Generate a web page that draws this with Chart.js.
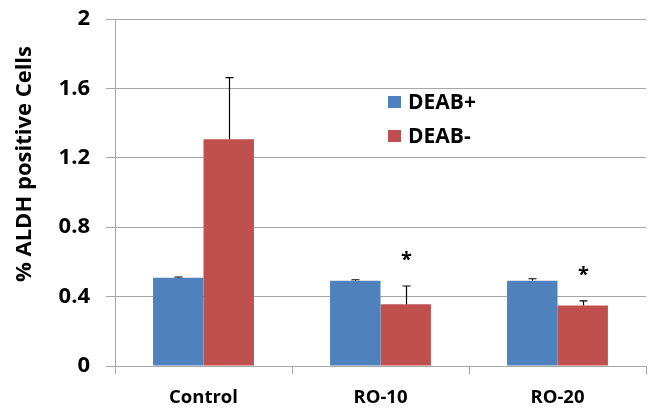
<!DOCTYPE html>
<html>
<head>
<meta charset="utf-8">
<script src="https://cdn.jsdelivr.net/npm/chart.js@4/dist/chart.umd.min.js"></script>
<style>
  html, body { margin: 0; padding: 0; background: #fff; }
  #wrap { width: 649px; height: 409px; }
</style>
</head>
<body>
<div id="wrap"><canvas id="chart" width="649" height="409"></canvas></div>
<script>
// data
const categories = ["Control", "RO-10", "RO-20"];
const deabPlus   = [0.509, 0.492, 0.492];
const deabMinus  = [1.307, 0.356, 0.348];
const errPlus    = [0.004, 0.005, 0.011];
const errMinus   = [0.355, 0.105, 0.027];
const sigMarks   = ["", "*", "*"];   // marks over DEAB- bars
const yTicks     = [0, 0.4, 0.8, 1.2, 1.6, 2];
const yTitle     = "% ALDH positive Cells";

const BLUE = "#4f81bd";
const RED  = "#c0504d";
const GRID = "#a6a6a6";
const FONT = "'Open Sans', sans-serif";

/* upward error bars + significance stars */
const errorBars = {
  id: "errorBars",
  afterDatasetsDraw(chart) {
    const { ctx, scales: { y } } = chart;
    ctx.save();
    ctx.strokeStyle = "#000";
    ctx.lineWidth = 1.2;
    chart.data.datasets.forEach((ds, di) => {
      const meta = chart.getDatasetMeta(di);
      meta.data.forEach((bar, i) => {
        const top = y.getPixelForValue(ds.data[i] + ds.err[i]);
        const x = Math.round(bar.x) + 0.5;
        ctx.beginPath();
        ctx.moveTo(x, bar.y);
        ctx.lineTo(x, top);
        ctx.moveTo(x - 4, top);
        ctx.lineTo(x + 4, top);
        ctx.stroke();
        if (ds.marks && ds.marks[i]) {
          ctx.fillStyle = "#000";
          ctx.font = "bold 20px " + FONT;
          ctx.textAlign = "center";
          ctx.textBaseline = "middle";
          ctx.fillText(ds.marks[i], x, top - 26);
        }
      });
    });
    ctx.restore();
  }
};

/* legend inside the plot + y title sitting above centre, like the original */
const extras = {
  id: "extras",
  afterDraw(chart) {
    const { ctx } = chart;
    ctx.save();
    ctx.font = "bold 21px " + FONT;
    ctx.textBaseline = "middle";
    ctx.textAlign = "left";
    chart.data.datasets.forEach((ds, i) => {
      const cy = 102 + i * 34;
      ctx.fillStyle = ds.backgroundColor;
      ctx.fillRect(388, cy - 6, 13, 12);
      ctx.fillStyle = "#000";
      ctx.fillText(ds.label, 408, cy + 1);
    });

    ctx.translate(25, 164);
    ctx.rotate(-Math.PI / 2);
    ctx.textAlign = "center";
    ctx.font = "bold 22px " + FONT;
    ctx.fillText(yTitle, 0, 0);
    ctx.restore();
  }
};

new Chart(document.getElementById("chart"), {
  type: "bar",
  data: {
    labels: categories,
    datasets: [
      { label: "DEAB+", data: deabPlus, err: errPlus, backgroundColor: BLUE },
      { label: "DEAB-", data: deabMinus, err: errMinus, marks: sigMarks, backgroundColor: RED },
    ],
  },
  options: {
    responsive: false,
    animation: false,
    layout: { padding: { top: 19, right: 3, left: 0, bottom: 0 } },
    datasets: { bar: { categoryPercentage: 0.57, barPercentage: 1 } },
    plugins: { legend: { display: false }, tooltip: { enabled: false } },
    scales: {
      x: {
        grid: { offset: true, drawOnChartArea: false, color: GRID, tickLength: 8 },
        border: { color: GRID },
        ticks: { color: "#000", font: { family: FONT, weight: "bold", size: 18.5 }, padding: 13 },
        afterFit(scale) { scale.height = 43; scale.paddingLeft = 0; scale.paddingRight = 0; },
      },
      y: {
        min: 0,
        max: 2,
        afterBuildTicks(scale) { scale.ticks = yTicks.map(v => ({ value: v })); },
        grid: { color: GRID, tickLength: 9 },
        border: { color: GRID },
        ticks: {
          color: "#000",
          font: { family: FONT, weight: "bold", size: 22 },
          padding: 16,
          callback: v => String(v),
        },
        afterFit(scale) { scale.width = 115; scale.paddingTop = 0; scale.paddingBottom = 0; },
      },
    },
  },
  plugins: [errorBars, extras],
});
</script>
</body>
</html>
